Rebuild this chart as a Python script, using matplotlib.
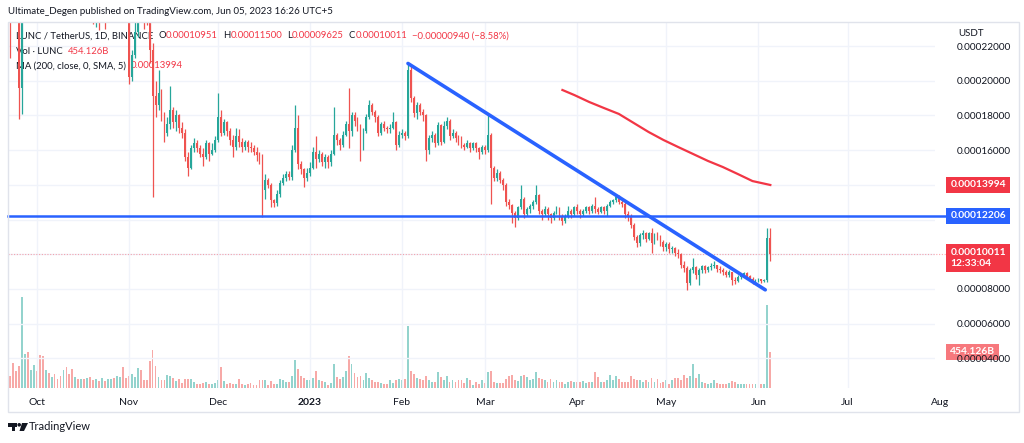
import matplotlib
matplotlib.use("Agg")
import matplotlib.pyplot as plt
import matplotlib.dates as mdates
import matplotlib.transforms as mtransforms
from matplotlib.patches import Rectangle, Polygon, Ellipse
import pandas as pd

plt.rcParams['font.family'] = ['Lato', 'DejaVu Sans']

UNIT = 1e-5   # price lists below are in units of 0.00001 USDT

# daily candles, 22 Sep 2022 .. 05 Jun 2023
dates = pd.date_range('2022-09-22', '2023-06-05', freq='D')
first_open = 29.5
closes = [
    28.0, 27.5, 26.0, 19.6, 27.0, 28.5, 27.5, 28.2, 29.0, 28.6,
    28.0, 27.2, 27.6, 26.9, 27.8, 27.2, 26.6, 25.9, 26.4, 25.8,
    25.4, 25.1, 25.3, 24.9, 25.2, 24.7, 24.9, 24.5, 24.1, 24.4,
    23.9, 24.3, 24.0, 24.6, 25.4, 25.0, 25.8, 26.5, 26.2, 25.6,
    20.2, 21.5, 22.8, 24.8, 24.4, 24.0, 23.8, 21.8, 19.1, 18.6,
    19.3, 18.0, 17.0, 17.5, 18.3, 17.6, 18.0, 17.3, 17.0, 15.6,
    15.0, 16.1, 16.4, 16.1, 15.8, 15.6, 16.4, 15.8, 16.0, 16.6,
    17.9, 17.0, 17.6, 17.1, 16.6, 16.2, 16.8, 16.5, 16.2, 16.5,
    16.2, 16.1, 15.9, 15.7, 15.5, 13.7, 14.3, 14.0, 13.1, 12.95,
    13.5, 14.1, 14.4, 14.6, 14.45, 16.0, 17.3, 15.2, 14.9, 14.4,
    14.7, 15.0, 15.9, 15.5, 15.8, 15.3, 15.6, 15.3, 15.8, 16.9,
    16.6, 16.3, 16.9, 17.5, 17.1, 18.0, 17.7, 17.4, 16.1, 17.1,
    17.9, 18.6, 18.2, 17.9, 17.0, 17.5, 17.3, 17.2, 17.3, 17.6,
    16.3, 16.9, 17.0, 16.8, 20.6, 19.0, 18.15, 18.6, 18.2, 18.0,
    16.0, 16.7, 16.9, 16.4, 17.45, 16.5, 17.4, 17.7, 16.8, 17.0,
    16.7, 16.6, 16.3, 16.2, 16.4, 16.1, 16.4, 16.1, 15.9, 16.2,
    16.0, 16.9, 15.0, 14.4, 14.7, 14.3, 14.0, 13.0, 12.85, 12.4,
    12.1, 12.7, 13.2, 12.3, 12.6, 12.8, 13.0, 13.4, 12.5, 12.3,
    12.6, 12.3, 12.1, 12.4, 12.6, 12.2, 11.9, 12.2, 12.5, 12.3,
    12.7, 12.5, 12.3, 12.5, 12.7, 12.5, 12.8, 12.6, 12.45, 12.7,
    12.5, 12.8, 13.0, 13.1, 13.3, 13.0, 12.9, 12.3, 12.2, 11.7,
    11.0, 10.65, 11.1, 11.2, 10.9, 11.2, 10.65, 11.1, 11.0, 10.7,
    10.4, 10.6, 10.3, 10.35, 10.1, 10.0, 9.4, 9.2, 8.35, 9.1,
    9.25, 8.8, 9.1, 9.3, 9.1, 9.25, 9.35, 9.4, 9.15, 9.1,
    9.0, 8.8, 9.0, 8.5, 8.45, 8.7, 8.8, 8.9, 8.75, 8.6,
    8.4, 8.5, 8.55, 8.45, 8.5, 10.951, 10.011,
]
highs = [
    30.0, 28.8, 27.8, 26.5, 29.0, 30.5, 29.0, 29.0, 29.8, 29.3,
    29.0, 28.4, 28.0, 27.9, 28.3, 28.1, 27.5, 26.9, 26.8, 26.6,
    26.1, 25.7, 25.6, 25.5, 25.4, 25.3, 25.1, 25.0, 24.7, 24.6,
    24.5, 24.6, 24.5, 24.8, 25.8, 25.7, 26.2, 27.4, 27.0, 26.5,
    25.9, 21.8, 24.0, 25.5, 25.4, 24.6, 24.3, 24.2, 22.2, 20.0,
    20.6, 19.5, 18.2, 17.9, 19.7, 18.5, 18.3, 18.1, 17.6, 17.2,
    15.9, 16.3, 16.7, 16.6, 16.3, 16.1, 16.6, 16.5, 16.4, 16.8,
    19.3, 18.3, 17.8, 17.7, 17.3, 16.9, 17.3, 17.2, 16.7, 16.6,
    16.6, 16.5, 16.3, 16.2, 15.9, 15.8, 14.6, 14.4, 14.1, 13.2,
    13.7, 14.3, 14.6, 14.8, 14.8, 16.3, 18.6, 18.0, 15.4, 15.0,
    15.0, 15.3, 16.2, 16.8, 16.0, 15.9, 15.8, 15.7, 16.0, 18.5,
    17.0, 16.7, 17.1, 17.7, 19.6, 18.2, 18.2, 17.9, 17.5, 17.3,
    18.1, 18.9, 18.7, 18.3, 18.0, 17.6, 17.7, 17.4, 17.5, 18.2,
    17.7, 17.1, 17.2, 17.1, 21.0, 20.9, 19.1, 18.8, 18.7, 18.4,
    18.1, 16.9, 17.1, 17.0, 17.6, 17.5, 17.7, 17.9, 17.8, 17.2,
    17.1, 16.9, 16.8, 16.4, 16.6, 16.5, 16.5, 16.5, 16.2, 16.3,
    16.3, 18.1, 17.0, 15.1, 14.9, 14.8, 14.4, 14.1, 13.2, 12.9,
    12.5, 12.8, 14.0, 13.3, 12.7, 12.9, 13.1, 14.0, 13.5, 12.6,
    12.8, 12.7, 12.4, 12.5, 12.8, 12.7, 12.3, 12.3, 12.8, 12.6,
    12.8, 12.9, 12.6, 12.6, 12.8, 12.8, 12.9, 13.3, 12.7, 12.8,
    12.8, 12.9, 13.1, 13.2, 13.5, 13.4, 13.1, 13.0, 12.5, 12.3,
    11.8, 11.1, 11.2, 11.4, 11.3, 11.3, 11.5, 11.2, 11.3, 11.1,
    10.8, 10.7, 10.7, 10.5, 10.4, 10.3, 10.1, 9.6, 9.3, 9.2,
    9.8, 9.3, 9.2, 9.4, 9.4, 9.3, 9.5, 9.6, 9.4, 9.3,
    9.2, 9.1, 9.1, 9.0, 8.7, 8.8, 8.9, 9.0, 8.95, 8.8,
    8.7, 8.6, 8.65, 8.6, 8.6, 11.5, 11.5,
]
lows = [
    21.3, 25.5, 24.0, 17.8, 18.1, 26.5, 26.8, 27.0, 27.5, 28.0,
    27.2, 26.5, 26.8, 26.3, 26.6, 26.7, 25.8, 25.3, 25.5, 25.2,
    24.9, 24.6, 24.8, 24.5, 24.6, 24.2, 24.3, 23.9, 23.3, 23.1,
    22.9, 23.4, 23.0, 23.6, 24.2, 24.5, 24.8, 25.6, 25.5, 24.8,
    19.8, 20.0, 21.3, 22.5, 23.9, 23.0, 23.2, 21.0, 13.3, 17.9,
    18.3, 17.7, 16.5, 16.8, 17.2, 17.3, 17.1, 17.0, 16.7, 15.4,
    14.5, 14.9, 15.9, 15.9, 15.6, 15.1, 15.5, 15.4, 15.7, 15.9,
    16.5, 16.8, 16.9, 16.8, 16.3, 15.6, 16.0, 16.2, 15.9, 16.0,
    15.9, 15.9, 15.7, 15.4, 15.2, 12.15, 13.2, 13.8, 12.7, 12.7,
    12.8, 13.3, 14.0, 14.2, 14.3, 14.3, 15.9, 14.9, 14.6, 13.9,
    14.2, 14.5, 14.9, 15.0, 15.3, 15.1, 15.0, 15.0, 15.1, 15.7,
    16.3, 16.0, 16.2, 16.8, 16.1, 16.8, 17.4, 17.1, 15.4, 16.0,
    17.0, 17.8, 18.0, 17.6, 16.8, 16.9, 17.1, 17.0, 17.0, 17.2,
    16.0, 16.2, 16.7, 16.6, 16.7, 18.8, 17.9, 17.8, 18.0, 17.7,
    15.4, 15.8, 16.5, 16.2, 16.3, 16.3, 16.4, 17.2, 16.6, 16.7,
    16.5, 16.3, 16.1, 16.0, 16.1, 15.9, 16.0, 15.9, 15.5, 15.8,
    15.8, 15.9, 12.9, 14.2, 14.2, 14.1, 13.7, 12.8, 12.6, 11.8,
    11.6, 12.0, 12.6, 12.1, 12.2, 12.4, 12.6, 12.9, 12.3, 12.0,
    12.2, 12.0, 11.8, 12.0, 12.3, 12.0, 11.7, 11.8, 12.1, 12.1,
    12.2, 12.3, 12.1, 12.2, 12.4, 12.3, 12.4, 12.4, 12.3, 12.4,
    12.3, 12.2, 12.7, 12.9, 13.0, 12.9, 12.7, 12.1, 11.9, 11.5,
    10.8, 10.4, 10.5, 10.9, 10.7, 10.8, 10.1, 10.6, 10.8, 10.5,
    10.2, 10.2, 10.1, 10.1, 9.9, 9.8, 9.2, 9.0, 7.95, 8.2,
    8.9, 8.6, 8.2, 8.9, 8.9, 9.0, 9.1, 9.2, 9.0, 8.9,
    8.8, 8.7, 8.7, 8.25, 8.3, 8.4, 8.6, 8.7, 8.6, 8.5,
    8.3, 8.3, 8.4, 8.35, 8.4, 8.4, 9.625,
]
# volume in billions of LUNC
volumes = [
    151, 315, 214, 277, 1147, 428, 454, 227, 290, 214,
    416, 403, 227, 189, 139, 176, 113, 151, 227, 265,
    176, 239, 139, 113, 113, 113, 126, 139, 101, 113,
    88, 126, 88, 113, 113, 126, 151, 139, 265, 126,
    151, 176, 139, 252, 227, 101, 101, 340, 479, 277,
    139, 101, 101, 164, 151, 126, 88, 113, 63, 113,
    113, 113, 76, 50, 50, 63, 76, 50, 50, 63,
    101, 265, 88, 50, 63, 50, 50, 113, 50, 38,
    50, 63, 38, 38, 101, 101, 101, 38, 88, 50,
    50, 113, 101, 76, 76, 151, 353, 239, 151, 126,
    101, 101, 126, 214, 101, 88, 76, 38, 63, 302,
    139, 113, 139, 214, 403, 302, 189, 139, 151, 101,
    189, 126, 101, 76, 76, 63, 50, 50, 101, 63,
    101, 113, 101, 113, 781, 214, 176, 126, 113, 101,
    151, 101, 76, 76, 202, 139, 101, 151, 76, 101,
    76, 101, 101, 63, 126, 101, 38, 76, 50, 101,
    63, 202, 214, 76, 63, 63, 63, 113, 151, 164,
    101, 88, 151, 164, 139, 101, 113, 202, 126, 113,
    101, 76, 113, 76, 101, 76, 76, 50, 76, 88,
    76, 76, 76, 88, 63, 76, 76, 202, 139, 76,
    76, 101, 164, 101, 151, 113, 76, 76, 76, 151,
    113, 101, 101, 76, 101, 76, 126, 76, 113, 63,
    76, 101, 50, 101, 126, 126, 101, 164, 126, 151,
    302, 126, 176, 76, 63, 50, 63, 101, 63, 50,
    50, 50, 63, 88, 76, 50, 50, 50, 50, 50,
    50, 50, 50, 50, 50, 1046, 454.126,
]

# MA(200)
ma_dates = ['2023-03-27', '2023-03-31', '2023-04-05', '2023-04-10', '2023-04-15',
            '2023-04-20', '2023-04-25', '2023-04-30', '2023-05-05', '2023-05-10',
            '2023-05-15', '2023-05-20', '2023-05-25', '2023-05-30', '2023-06-05']
ma_values = [19.47, 19.18, 18.78, 18.43, 18.09, 17.57, 17.05, 16.59, 16.18, 15.78,
             15.38, 15.03, 14.63, 14.22, 13.994]

# drawn lines
trend_dates = ['2023-02-03T00:00', '2023-06-03T07:00']
trend_values = [21.0, 7.95]
support_level = 12.206
last_price = 10.011

price_ticks = [4, 6, 8, 10, 12, 14, 16, 18, 20, 22]
hidden_ticks = [10, 12, 14]   # covered by the badges on the scale
month_labels = ['Oct', 'Nov', 'Dec', '2023', 'Feb', 'Mar', 'Apr', 'May', 'Jun', 'Jul', 'Aug']

GREEN = '#26a69a'
RED = '#ef5350'
VGREEN = '#93d3cd'
VRED = '#f7a9a7'
TEXT = '#131722'
GRID = '#f0f3fa'
BORDER = '#e0e3eb'
LRED = '#f23645'
BLUE = '#2962ff'

W, H = 1024, 443
fig = plt.figure(figsize=(W / 100, H / 100), dpi=100)
fig.patch.set_facecolor('white')


def fx(px):
    return px / W


def fy(py):
    return 1 - py / H


axv = fig.add_axes([fx(8), fy(388), fx(935) - fx(8), fy(22) - fy(388)])
ax = axv.twinx()

opens = [first_open] + closes[:-1]
o = [v * UNIT for v in opens]
c = [v * UNIT for v in closes]
h = [v * UNIT for v in highs]
l = [v * UNIT for v in lows]
up = [ci >= oi for oi, ci in zip(o, c)]
col = [GREEN if u else RED for u in up]
vcol = [VGREEN if u else VRED for u in up]

# volume pane
axv.bar(dates, volumes, width=0.62, color=vcol, zorder=1)
axv.set_ylim(0, 4612)
axv.set_yticks([])

# candles
ax.vlines(dates, l, h, colors=col, linewidth=0.9, zorder=3)
body_b = [min(oi, ci) for oi, ci in zip(o, c)]
body_h = [max(abs(ci - oi), 0.04 * UNIT) for oi, ci in zip(o, c)]
ax.bar(dates, body_h, bottom=body_b, width=0.62, color=col, zorder=4)

# MA line
ax.plot(pd.to_datetime(ma_dates), [v * UNIT for v in ma_values], color=LRED, lw=1.6, zorder=5)

# trend lines
trans = mtransforms.blended_transform_factory(ax.transAxes, ax.transData)
bx = 1.0165
ax.plot(pd.to_datetime(trend_dates), [v * UNIT for v in trend_values], color=BLUE, lw=2.6,
        solid_capstyle='round', zorder=6)
ax.plot([0, bx], [support_level * UNIT] * 2, transform=trans, color=BLUE, lw=1.8,
        clip_on=False, zorder=6)
ax.plot([0, bx], [last_price * UNIT] * 2, transform=trans, color='#f7525f', lw=0.8,
        ls=(0, (1, 1.5)), alpha=0.5, clip_on=False, zorder=2)

x0 = mdates.date2num(dates[0]) - 2 / 2.97
ax.set_xlim(x0, x0 + 927 / 2.97)
ax.set_ylim(2.29 * UNIT, 23.39 * UNIT)

ax.set_yticks([t * UNIT for t in price_ticks])
ax.set_yticklabels(['' if t in hidden_ticks else f'{t * UNIT:.8f}' for t in price_ticks])
ax.tick_params(axis='y', length=0, pad=16, labelsize=7.2, labelcolor=TEXT)
ax.grid(axis='y', color=GRID, lw=1, zorder=0)

month_ticks = pd.date_range('2022-10-01', '2023-08-01', freq='MS')
axv.set_xticks(month_ticks[:-1])
axv.set_xticklabels(month_labels[:-1])
axv.tick_params(axis='x', length=0, pad=7, labelsize=7.5, labelcolor=TEXT)
for lab in axv.get_xticklabels():
    if lab.get_text() == '2023':
        lab.set_fontweight('bold')
axv.grid(axis='x', color=GRID, lw=1, zorder=0)
axv.set_xlim(x0, x0 + 927 / 2.97)
# last month label sits under the price scale
axv.annotate(month_labels[-1], xy=(month_ticks[-1], 0), xycoords=('data', 'axes fraction'),
             xytext=(0, -7), textcoords='offset points', ha='center', va='top',
             fontsize=7.5, color=TEXT, annotation_clip=False)

for a in (ax, axv):
    for s in a.spines.values():
        s.set_visible(False)

# right-scale badges
badge_style = dict(fontsize=7.4, color='white', fontweight='bold', ha='left', clip_on=False, zorder=10)

ax.text(bx, 13.994 * UNIT, '0.00013994', transform=trans, va='center',
        bbox=dict(boxstyle='square,pad=0.38', fc=LRED, ec='none'), **badge_style)
ax.text(bx, support_level * UNIT, '0.00012206', transform=trans, va='center',
        bbox=dict(boxstyle='square,pad=0.38', fc=BLUE, ec='none'), **badge_style)
ax.annotate('0.00010011\n12:33:04', xy=(bx, last_price * UNIT), xycoords=trans,
            xytext=(0, 4.5), textcoords='offset points', va='top', linespacing=1.3,
            annotation_clip=False,
            bbox=dict(boxstyle='square,pad=0.38', fc=LRED, ec='none'), **badge_style)
vtrans = mtransforms.blended_transform_factory(axv.transAxes, axv.transData)
axv.text(bx, 454.126, '454.126B', transform=vtrans, va='center',
         bbox=dict(boxstyle='square,pad=0.38', fc='#f7787d', ec='none'), **badge_style)

# header and legends
fig.text(fx(8), fy(12), 'Ultimate_Degen published on TradingView.com, Jun 05, 2023 16:26 UTC+5',
         fontsize=7.0, color=TEXT, va='center', ha='left')
fig.text(fx(958), fy(33), 'USDT', fontsize=7.0, color=TEXT, va='center', ha='left')


def legend_line(y, parts):
    prev = axv.annotate(parts[0][0], xy=(fx(16), fy(y)), xycoords='figure fraction',
                        fontsize=6.8, color=parts[0][1], va='center', ha='left',
                        annotation_clip=False, zorder=20)
    for txt, color, gap in parts[1:]:
        prev = axv.annotate(txt, xy=(1, 0.5), xycoords=prev, xytext=(gap, 0),
                            textcoords='offset points', fontsize=6.8, color=color,
                            va='center', ha='left', annotation_clip=False, zorder=20)


legend_line(36, [('LUNC / TetherUS, 1D, BINANCE', TEXT),
                 ('O', TEXT, 3.5), ('0.00010951', LRED, 0.2),
                 ('H', TEXT, 3.5), ('0.00011500', LRED, 0.2),
                 ('L', TEXT, 3.5), ('0.00009625', LRED, 0.2),
                 ('C', TEXT, 3.5), ('0.00010011', LRED, 0.2),
                 ('\u22120.00000940 (\u22128.58%)', LRED, 3.5)])
legend_line(51, [('Vol \u00b7 LUNC', TEXT), ('454.126B', LRED, 3.5)])
legend_line(66, [('MA (200, close, 0, SMA, 5)', TEXT), ('0.00013994', LRED, 3.5)])

# frame
fig.add_artist(Rectangle((fx(8), fy(412)), fx(1019) - fx(8), fy(22) - fy(412), transform=fig.transFigure,
                         fill=False, ec=BORDER, lw=1))

# TradingView logo mark and wordmark
logo = [
    [(8, 423), (17, 423), (17, 426.5), (8, 426.5)],
    [(11.5, 426), (15, 426), (15, 431), (11.5, 431)],
    [(22, 423), (28, 423), (24, 431), (19.5, 431)],
]
for pts in logo:
    fig.add_artist(Polygon([(fx(px), fy(py)) for px, py in pts], closed=True,
                           transform=fig.transFigure, fc=TEXT, ec='none'))
fig.add_artist(Ellipse((fx(19.2), fy(424.8)), fx(3.6), 3.6 / H, transform=fig.transFigure,
                       fc=TEXT, ec='none'))
fig.text(fx(29), fy(427), 'TradingView', fontsize=8.0, color=TEXT, va='center', ha='left')

fig.savefig('out.png', dpi=100, facecolor='white')
